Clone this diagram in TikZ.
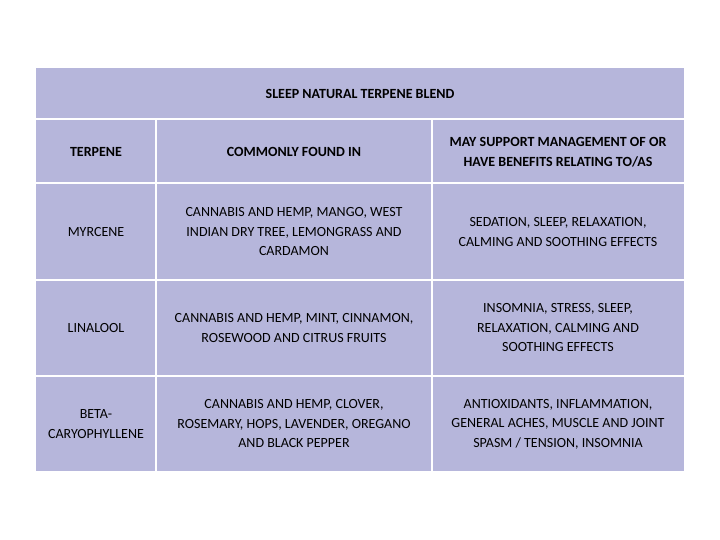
\documentclass[tikz,border=0pt]{standalone}
\usepackage{fontspec}
\setmainfont{Carlito}
\definecolor{cellbg}{RGB}{182,182,219}
\begin{document}
\begin{tikzpicture}[x=1pt,y=-1pt,
  cell/.style={align=center,font=\fontsize{14}{19.5}\selectfont,inner sep=0pt},
  hd/.style={cell,font=\fontsize{14}{19.5}\selectfont\bfseries},
  grid/.style={white,line width=1.5pt}]
\useasboundingbox (0,0) rectangle (720,540);
\fill[cellbg] (36,68) rectangle (684,471);
\draw[grid] (36,119) -- (684,119);
\draw[grid] (36,183) -- (684,183);
\draw[grid] (36,280) -- (684,280);
\draw[grid] (36,376) -- (684,376);
\draw[grid] (156,119) -- (156,471);
\draw[grid] (432,119) -- (432,471);
\node[hd] (title) at (360,94) {SLEEP NATURAL TERPENE BLEND};
\node[hd] (h1) at (96,152) {TERPENE};
\node[hd] (h2) at (294,152) {COMMONLY FOUND IN};
\node[hd] (h3) at (558,152) {MAY SUPPORT MANAGEMENT OF OR\\HAVE BENEFITS RELATING TO/AS};
\node[cell] (a1) at (96,232) {MYRCENE};
\node[cell] (a2) at (294,232) {CANNABIS AND HEMP, MANGO, WEST\\INDIAN DRY TREE, LEMONGRASS AND\\CARDAMON};
\node[cell] (a3) at (558,232) {SEDATION, SLEEP, RELAXATION,\\CALMING AND SOOTHING EFFECTS};
\node[cell] (b1) at (96,328) {LINALOOL};
\node[cell] (b2) at (294,328) {CANNABIS AND HEMP, MINT, CINNAMON,\\ROSEWOOD AND CITRUS FRUITS};
\node[cell] (b3) at (558,328) {INSOMNIA, STRESS, SLEEP,\\RELAXATION, CALMING AND\\SOOTHING EFFECTS};
\node[cell] (c1) at (96,424) {BETA-\\CARYOPHYLLENE};
\node[cell] (c2) at (294,424) {CANNABIS AND HEMP, CLOVER,\\ROSEMARY, HOPS, LAVENDER, OREGANO\\AND BLACK PEPPER};
\node[cell] (c3) at (558,424) {ANTIOXIDANTS, INFLAMMATION,\\GENERAL ACHES, MUSCLE AND JOINT\\SPASM / TENSION, INSOMNIA};
\end{tikzpicture}
\end{document}
